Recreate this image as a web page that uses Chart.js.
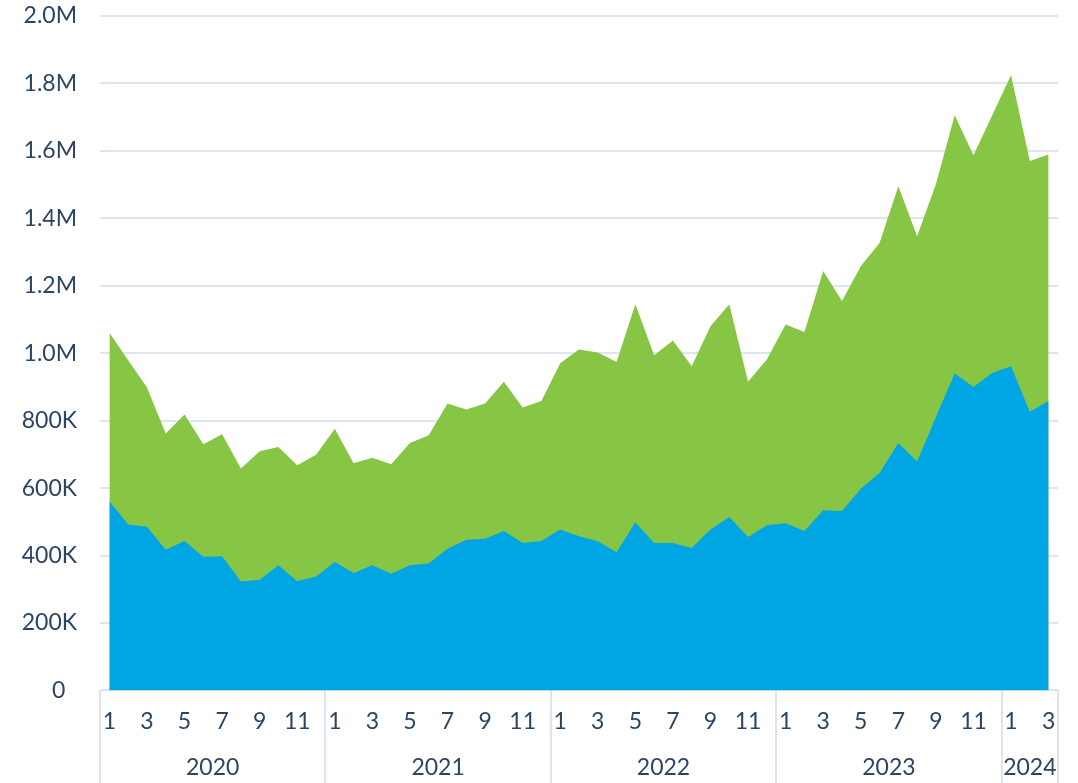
<!DOCTYPE html>
<html lang="en">
<head>
  <meta charset="UTF-8" />
  <title>Monthly volume 2020-2024</title>
  <script src="https://cdn.jsdelivr.net/npm/chart.js"></script>
  <style>
    body { margin: 0; background: #fff; }
    #wrap { width: 1078px; height: 783px; }
  </style>
</head>
<body>
  <div id="wrap"><canvas id="areaChart"></canvas></div>

  <script>
    const categories = [
      '2020-01','2020-02','2020-03','2020-04','2020-05','2020-06','2020-07','2020-08','2020-09','2020-10','2020-11','2020-12',
      '2021-01','2021-02','2021-03','2021-04','2021-05','2021-06','2021-07','2021-08','2021-09','2021-10','2021-11','2021-12',
      '2022-01','2022-02','2022-03','2022-04','2022-05','2022-06','2022-07','2022-08','2022-09','2022-10','2022-11','2022-12',
      '2023-01','2023-02','2023-03','2023-04','2023-05','2023-06','2023-07','2023-08','2023-09','2023-10','2023-11','2023-12',
      '2024-01','2024-02','2024-03'
    ];
    const yearLabels = ['2020', '2021', '2022', '2023', '2024'];

    // lower (blue) area
    const baseValues = [
      561000, 492000, 485000, 417000, 443000, 396000, 398000, 323000, 328000, 371000, 324000, 338000,
      381000, 348000, 371000, 346000, 371000, 376000, 420000, 447000, 450000, 473000, 437000, 443000,
      477000, 457000, 442000, 410000, 499000, 437000, 437000, 422000, 477000, 514000, 455000, 490000,
      496000, 473000, 534000, 532000, 598000, 645000, 734000, 679000, 811000, 940000, 900000, 941000,
      961000, 826000, 858000
    ];
    // top edge of the green area (total)
    const totalValues = [
      1061000, 979000, 898000, 762000, 818000, 730000, 760000, 658000, 709000, 722000, 668000, 699000,
      776000, 674000, 690000, 671000, 734000, 757000, 851000, 833000, 851000, 915000, 839000, 858000,
      970000, 1011000, 1002000, 974000, 1145000, 994000, 1038000, 961000, 1080000, 1145000, 915000, 981000,
      1085000, 1063000, 1244000, 1155000, 1258000, 1327000, 1495000, 1347000, 1501000, 1706000, 1587000, 1706000,
      1825000, 1570000, 1589000
    ];
    const yTickLabels = ['0', '200K', '400K', '600K', '800K', '1.0M', '1.2M', '1.4M', '1.6M', '1.8M', '2.0M'];

    const textColor = '#2b4563';
    const lineColor = '#dde6ef';
    const tickFont = { family: 'Lato', size: 23 };

    // middle of each year's run of months, so the year label sits under its group
    const yearCenters = yearLabels.map(y => {
      const idx = categories.map((c, i) => c.startsWith(y) ? i : -1).filter(i => i >= 0);
      return (idx[0] + idx[idx.length - 1]) / 2;
    });

    const ctx = document.getElementById('areaChart').getContext('2d');
    new Chart(ctx, {
      type: 'line',
      data: {
        labels: categories,
        datasets: [
          { label: 'Base', data: baseValues, backgroundColor: '#00a5e3', borderWidth: 0, pointRadius: 0, fill: 'origin' },
          { label: 'Total', data: totalValues, backgroundColor: '#87c545', borderWidth: 0, pointRadius: 0, fill: 'origin' }
        ]
      },
      options: {
        responsive: true,
        maintainAspectRatio: false,
        animation: false,
        layout: { padding: { left: 0, right: 20, top: 0, bottom: 2 } },
        plugins: { legend: { display: false }, tooltip: { enabled: false } },
        scales: {
          y: {
            min: 0,
            max: 2000000,
            afterFit: s => { s.width = 100; s.paddingTop = 16; s.paddingBottom = 0; },
            ticks: {
              stepSize: 200000,
              padding: 23,
              color: textColor,
              font: tickFont,
              // the zero label sits a little further left in the original
              callback: (v, i) => i === 0 ? yTickLabels[i] + '  ' : yTickLabels[i]
            },
            grid: { color: lineColor, lineWidth: 2, drawTicks: false },
            border: { display: false }
          },
          x: {
            type: 'category',
            offset: true,
            // tick marks only at year boundaries, long enough to run down through both label rows
            grid: {
              offset: true,
              drawOnChartArea: false,
              drawTicks: true,
              tickLength: 145,
              lineWidth: 2,
              color: c => (c.index === undefined || c.index % 12 === 0) ? lineColor : 'rgba(0,0,0,0)'
            },
            border: { display: false },
            ticks: {
              mirror: true,
              autoSkip: false,
              maxRotation: 0,
              padding: -45,
              color: textColor,
              font: tickFont,
              callback: (v, i) => {
                const m = parseInt(categories[i].split('-')[1], 10);
                return m % 2 === 1 ? String(m) : '';
              }
            }
          },
          years: {
            type: 'linear',
            position: 'bottom',
            min: -0.5,
            max: categories.length - 0.5,
            grid: { display: false },
            border: { display: false },
            afterBuildTicks: axis => { axis.ticks = yearCenters.map(v => ({ value: v })); },
            ticks: { autoSkip: false, maxRotation: 0, padding: 0, color: textColor, font: tickFont, callback: (v, i) => yearLabels[i] }
          }
        }
      }
    });
  </script>
</body>
</html>
